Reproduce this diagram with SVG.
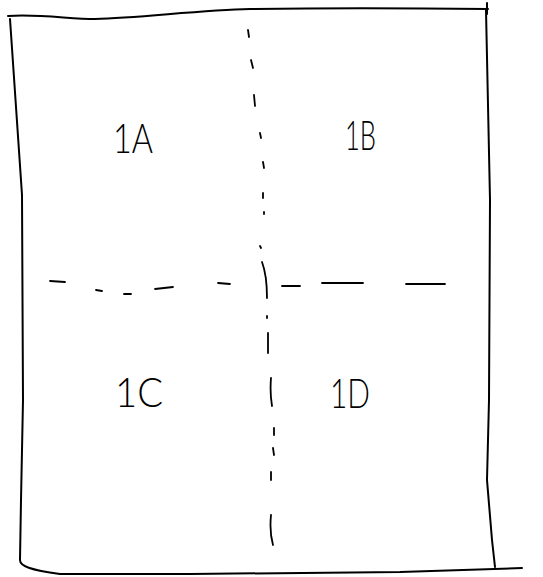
<svg xmlns="http://www.w3.org/2000/svg" width="543" height="577" viewBox="0 0 543 577">
<style>
.s{fill:none;stroke:#000;stroke-width:2;stroke-linecap:round;stroke-linejoin:round}
.d{fill:none;stroke:#000;stroke-width:1.8;stroke-linecap:round}
.t{font-family:Lato,"Liberation Sans",Arial,sans-serif;font-weight:300;font-size:42px;fill:#000}
</style>
<rect width="543" height="577" fill="#fff"/>
<g id="frame">
<path class="s" d="M8,16 C40,14 70,19 95,19 C140,18 200,10 250,9 C320,8 400,8 488,9"/>
<path class="s" d="M487,3 L487,14"/>
<path class="s" d="M10,19 L22,195 L23,400 L21,500 L20,560 C20,566 30,570 60,574 L190,574 L400,572 L522,568"/>
<path class="s" d="M486,10 L490,200 L489,400 L487,480 L492,540 L495,567"/>
</g>
<g id="vertical-divider">
<path class="d" d="M248,30 L249,37 M251,60 L253,68 M254,95 L255,106 M260,133 L261,138 M263,162 L264,168 M263,193 L263,198 M264,212 L264,214 M260,246 L261,248 M262,262 C265,270 267,285 267,298 M267,316 L267,318 M268,333 L268,353 M271,378 C270,390 271,400 272,406 M274,428 L274,435 M273,448 L274,455 M271,472 L271,480 M271,515 C270,525 271,538 273,545"/>
</g>
<g id="horizontal-divider">
<path class="d" d="M50,281 L65,282 M96,290 L102,291 M124,294 L131,294 M155,289 L173,287 M218,283 L230,284 M282,286 L300,286 M322,283 L363,283 M406,284 L445,284"/>
</g>
<g id="q1a"><text class="t" x="113" y="153" textLength="40" lengthAdjust="spacingAndGlyphs">1A</text></g>
<g id="q1b"><text class="t" x="345" y="150" textLength="31" lengthAdjust="spacingAndGlyphs">1B</text></g>
<g id="q1c"><text class="t" x="115" y="407" textLength="48" lengthAdjust="spacingAndGlyphs">1C</text></g>
<g id="q1d"><text class="t" x="330" y="408" textLength="40" lengthAdjust="spacingAndGlyphs">1D</text></g>
</svg>
